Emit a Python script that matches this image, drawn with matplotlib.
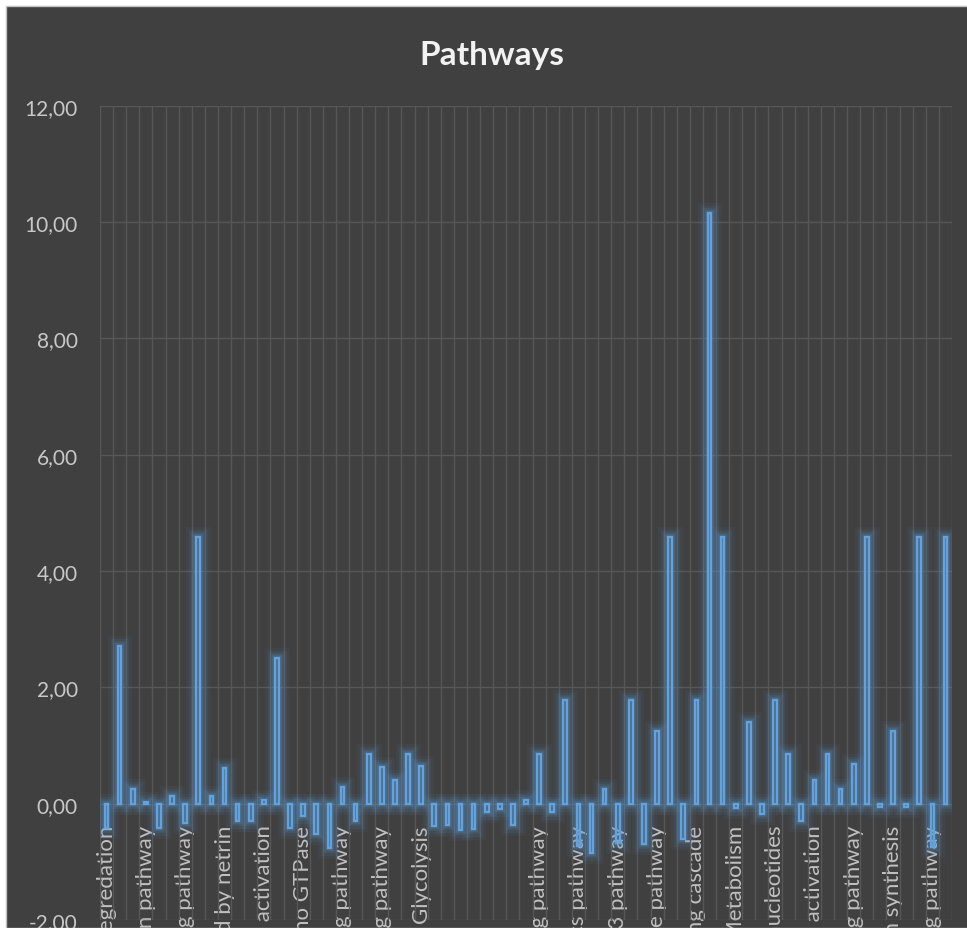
import matplotlib.pyplot as plt
import numpy as np
from matplotlib.patches import Rectangle

# values, one per category (65 pathways)
values = [
    -0.42, 2.71, 0.25, 0.03, -0.42, 0.13, -0.33, 4.58, 0.13, 0.61,
    -0.30, -0.30, 0.06, 2.50, -0.41, -0.21, -0.53, -0.77, 0.29, -0.30,
    0.86, 0.63, 0.41, 0.86, 0.64, -0.38, -0.37, -0.46, -0.44, -0.14,
    -0.09, -0.37, 0.07, 0.86, -0.14, 1.79, -0.72, -0.85, 0.25, -0.68,
    1.79, -0.69, 1.25, 4.58, -0.60, 1.79, 10.15, 4.58, -0.07, 1.41,
    -0.17, 1.79, 0.86, -0.30, 0.41, 0.86, 0.25, 0.68, 4.58, -0.06,
    1.25, -0.06, 4.58, -0.75, 4.58,
]

# Excel only shows every third category name
label_step = 3
tick_labels = [
    "Aminobutyrate degredation",
    "Alzheimer disease-presenilin pathway",
    "Apoptosis signaling pathway",
    "Axon guidance mediated by netrin",
    "B cell activation",
    "Cytoskeletal regulation by Rho GTPase",
    "EGF receptor signaling pathway",
    "FGF signaling pathway",
    "Glycolysis",
    "",
    "",
    "Integrin signalling pathway",
    "Nicotine pharmacodynamics pathway",
    "p53 pathway",
    "Ubiquitin proteasome pathway",
    "Plasminogen activating cascade",
    "Pyrimidine Metabolism",
    "Salvage pyrimidine ribonucleotides",
    "T cell activation",
    "VEGF signaling pathway",
    "Vasopressin synthesis",
    "Wnt signaling pathway",
]
y_ticks = [-2, 0, 2, 4, 6, 8, 10, 12]

plt.rcParams['font.family'] = ['Lato', 'DejaVu Sans']

W, H = 967, 929
fig = plt.figure(figsize=(W / 100, H / 100), dpi=100, facecolor='white')
# dark chart area (screenshot shows a white strip top/left)
fig.patches.append(Rectangle((6 / W, 0), 1, 1 - 7 / H, transform=fig.transFigure,
                             facecolor='#404040', edgecolor='#BFBFBF', lw=1, zorder=-10))

ax = fig.add_axes([100 / W, 8 / H, 852 / W, (921 - 106.7) / H])
ax.set_facecolor('none')

# category axis crosses at zero, labels sit just under it
# (set this first: it resets tick settings)
ax.spines['bottom'].set_position(('data', 0))
for s in ax.spines.values():
    s.set_color('none')

x = np.arange(len(values))
blue = '#5B9BD5'

# glow
for lw, a in [(15, 0.06), (11, 0.09), (7, 0.13), (4.5, 0.18)]:
    ax.bar(x, values, width=0.28, facecolor='none', edgecolor=blue,
           linewidth=lw, alpha=a, zorder=3)
ax.bar(x, values, width=0.28, facecolor=(0.36, 0.61, 0.84, 0.15),
       edgecolor='#62A3DF', linewidth=1.7, zorder=4)

ax.set_xlim(-0.5, len(values) - 0.5)
ax.set_ylim(-2, 12)

ax.set_yticks(y_ticks)
ax.set_yticklabels([f"{v:.2f}".replace('.', ',') for v in y_ticks])
ax.tick_params(axis='y', length=0, pad=16, labelsize=15, labelcolor='#C8C8C8')

ax.set_xticks(np.arange(-0.5, len(values)), minor=True)
ax.set_xticks(x[::label_step])
ax.tick_params(axis='x', which='both', length=0, pad=15, labelsize=16,
               labelcolor='#C0C0C0', labelrotation=90)
ax.set_xticklabels(tick_labels)
for t in ax.get_xticklabels():
    t.set_rotation(90)
    t.set_va('top')
    t.set_ha('center')

ax.grid(axis='y', color='#575757', linewidth=1, zorder=0)
ax.grid(axis='x', which='minor', color='#575757', linewidth=1, zorder=0)
ax.set_axisbelow(True)

fig.text(492 / W, 1 - 55 / H, "Pathways", ha='center', va='center',
         fontsize=24, fontweight='bold', color='#F2F2F2')

fig.savefig('out.png', dpi=100)
